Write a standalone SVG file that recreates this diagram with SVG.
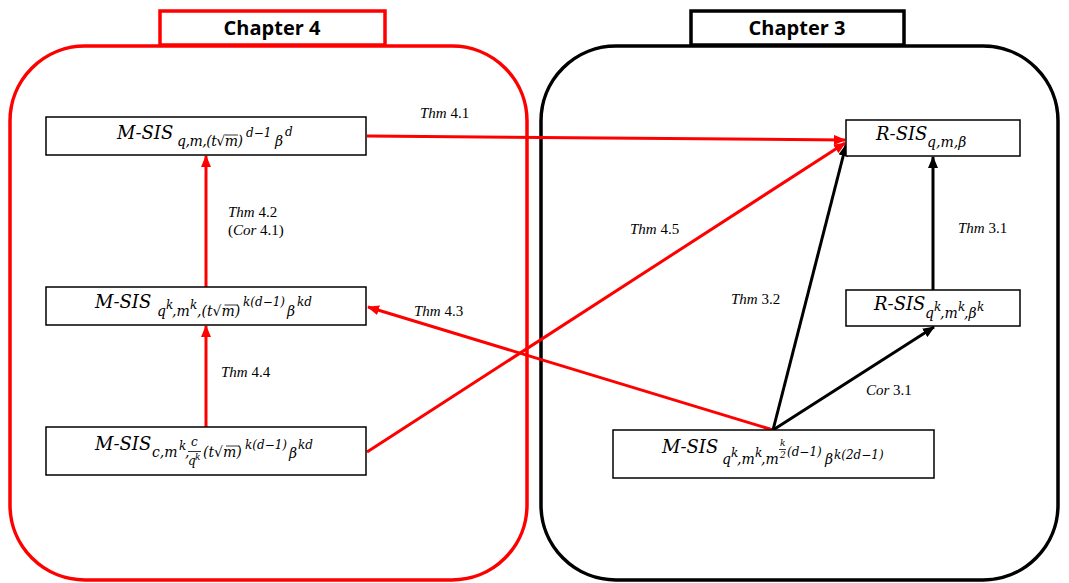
<svg xmlns="http://www.w3.org/2000/svg" width="1069" height="583" viewBox="0 0 1069 583">
<defs>
<marker id="ar" viewBox="0 0 12 10" refX="11" refY="5" markerWidth="12" markerHeight="10" markerUnits="userSpaceOnUse" orient="auto"><path d="M0,0 L12,5 L0,10 z" fill="#ff0000"/></marker>
<marker id="ak" viewBox="0 0 12 10" refX="11" refY="5" markerWidth="12" markerHeight="10" markerUnits="userSpaceOnUse" orient="auto"><path d="M0,0 L12,5 L0,10 z" fill="#000"/></marker>
<style>
.m{font-family:"DejaVu Serif","Liberation Serif",serif;font-style:italic;fill:#000}
.b{font-size:18px}.s{font-size:14px}.p{font-size:12px}.pp{font-size:9px}
.box{fill:#fff;stroke:#000;stroke-width:1.5}
.ov{stroke:#000;stroke-width:0.8}
.lbl{font-family:"Liberation Serif","DejaVu Serif",serif;font-size:15px;fill:#000}
.it{font-style:italic}
.red{stroke:#ff0000;stroke-width:3;fill:none}
.blk{stroke:#000;stroke-width:3;fill:none}
.ch{font-family:"Open Sans","Noto Sans","Liberation Sans",sans-serif;font-weight:bold;font-size:20px;text-anchor:middle;fill:#000}
</style>
</defs>
<g id="chapter4">
<rect x="10" y="46" width="517" height="534" rx="75" ry="75" fill="none" stroke="#ff0000" stroke-width="3.5"/>
<rect x="160" y="11" width="225" height="34" fill="#fff" stroke="#ff0000" stroke-width="3.5"/>
<text class="ch" x="272" y="35">Chapter 4</text>
</g>
<g id="chapter3">
<rect x="541" y="46" width="517" height="534" rx="75" ry="75" fill="none" stroke="#000" stroke-width="3.5"/>
<rect x="691" y="11" width="213" height="34" fill="#fff" stroke="#000" stroke-width="3.5"/>
<text class="ch" x="797" y="35">Chapter 3</text>
</g>
<g id="connectors">
<line class="red" x1="367" y1="136" x2="845" y2="140" marker-end="url(#ar)"/>
<line class="red" x1="206" y1="287" x2="206" y2="156" marker-end="url(#ar)"/>
<line class="red" x1="206" y1="427" x2="206" y2="326" marker-end="url(#ar)"/>
<line class="red" x1="367" y1="452" x2="845" y2="143" marker-end="url(#ar)"/>
<line class="red" x1="773" y1="430" x2="368" y2="307" marker-end="url(#ar)"/>
<line class="blk" x1="773" y1="430" x2="846" y2="145" marker-end="url(#ak)"/>
<line class="blk" x1="773" y1="430" x2="934" y2="327" marker-end="url(#ak)"/>
<line class="blk" x1="933" y1="290" x2="933" y2="157" marker-end="url(#ak)"/>
<text class="lbl" x="420" y="118"><tspan class="it">Thm</tspan> 4.1</text>
<text class="lbl" x="228" y="217"><tspan class="it">Thm</tspan> 4.2</text>
<text class="lbl" x="228" y="235">(<tspan class="it">Cor</tspan> 4.1)</text>
<text class="lbl" x="221" y="377"><tspan class="it">Thm</tspan> 4.4</text>
<text class="lbl" x="630" y="234"><tspan class="it">Thm</tspan> 4.5</text>
<text class="lbl" x="414" y="316"><tspan class="it">Thm</tspan> 4.3</text>
<text class="lbl" x="731" y="304"><tspan class="it">Thm</tspan> 3.2</text>
<text class="lbl" x="866" y="395"><tspan class="it">Cor</tspan> 3.1</text>
<text class="lbl" x="958" y="233"><tspan class="it">Thm</tspan> 3.1</text>
</g>
<g id="nodeA">
<rect class="box" x="46" y="117" width="320" height="38"/>
<text class="m b" x="117" y="139">M-SIS</text>
<text class="m s" x="177" y="146" textLength="66" lengthAdjust="spacing">q,m,(t√m)</text>
<line class="ov" x1="225" y1="135" x2="238" y2="135"/>
<text class="m p" x="246" y="137">d−1</text>
<text class="m s" x="275" y="146">β</text>
<text class="m p" x="285" y="136">d</text>
</g>
<g id="nodeB">
<rect class="box" x="46" y="287" width="320" height="38"/>
<text class="m b" x="95" y="308">M-SIS</text>
<text class="m s" x="157" y="316">q</text>
<text class="m p" x="166" y="309">k</text>
<text class="m s" x="172" y="316">,m</text>
<text class="m p" x="190" y="309">k</text>
<text class="m s" x="197" y="316">,(t√m)</text>
<line class="ov" x1="224.5" y1="305" x2="238" y2="305"/>
<text class="m p" x="243" y="306">k(d−1)</text>
<text class="m s" x="287" y="316">β</text>
<text class="m p" x="297" y="306">kd</text>
</g>
<g id="nodeC">
<rect class="box" x="46" y="427" width="320" height="48"/>
<text class="m b" x="95" y="450">M-SIS</text>
<text class="m s" x="152" y="457">c,m</text>
<text class="m p" x="179" y="450">k</text>
<text class="m s" x="185" y="457">,</text>
<text class="m p" x="191" y="446">c</text>
<line class="ov" x1="188" y1="451.5" x2="201" y2="451.5"/>
<text class="m p" x="188" y="465">q</text>
<text class="m pp" x="195" y="460">k</text>
<text class="m s" x="203" y="457">(t√m)</text>
<line class="ov" x1="226" y1="446" x2="239.5" y2="446"/>
<text class="m p" x="245" y="449">k(d−1)</text>
<text class="m s" x="289" y="458">β</text>
<text class="m p" x="298" y="449">kd</text>
</g>
<g id="nodeD">
<rect class="box" x="613" y="430" width="321" height="48"/>
<text class="m b" x="662" y="453">M-SIS</text>
<text class="m s" x="722" y="464">q</text>
<text class="m p" x="731" y="457">k</text>
<text class="m s" x="737" y="464">,m</text>
<text class="m p" x="755" y="457">k</text>
<text class="m s" x="761" y="464">,m</text>
<text class="m pp" x="780" y="446">k</text>
<line class="ov" x1="779" y1="449.5" x2="786" y2="449.5"/>
<text class="m pp" x="780" y="458">2</text>
<text class="m p" x="787" y="456">(d−1)</text>
<text class="m s" x="825" y="464">β</text>
<text class="m p" x="834" y="459">k(2d−1)</text>
</g>
<g id="nodeE">
<rect class="box" x="846" y="120" width="174" height="36"/>
<text class="m b" x="876" y="140">R-SIS</text>
<text class="m s" x="927" y="147">q,m,β</text>
</g>
<g id="nodeF">
<rect class="box" x="846" y="290" width="174" height="36"/>
<text class="m b" x="874" y="310">R-SIS</text>
<text class="m s" x="925" y="318">q</text>
<text class="m p" x="934" y="311">k</text>
<text class="m s" x="940" y="318">,m</text>
<text class="m p" x="958" y="311">k</text>
<text class="m s" x="964" y="318">,β</text>
<text class="m p" x="977" y="311">k</text>
</g>
</svg>
